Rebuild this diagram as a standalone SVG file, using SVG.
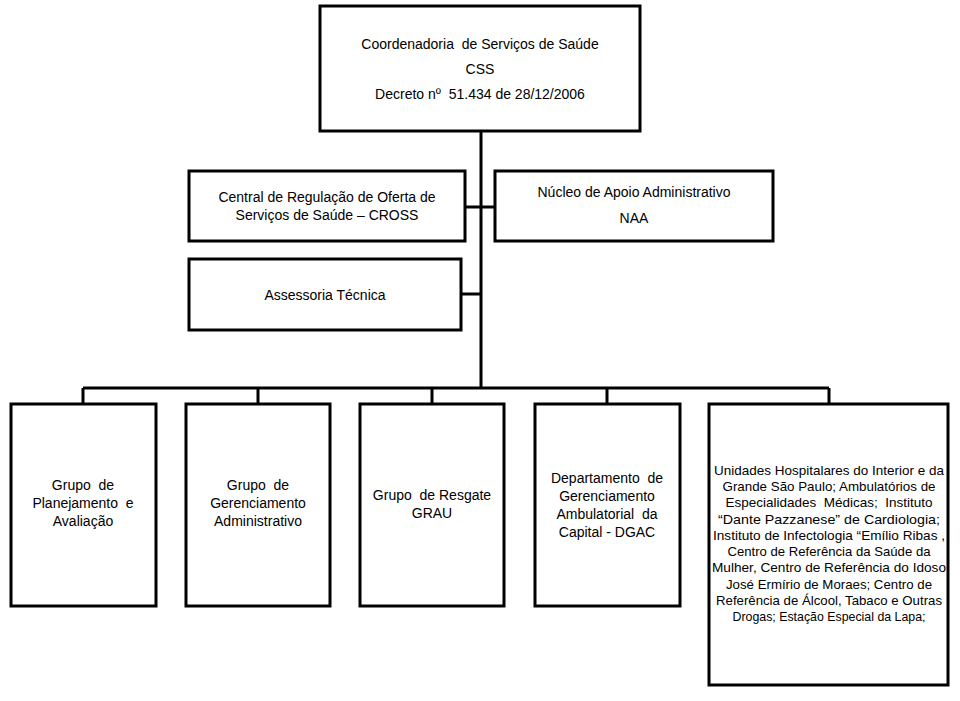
<svg xmlns="http://www.w3.org/2000/svg" width="960" height="701" viewBox="0 0 960 701">
<style>
.box{fill:#fff;stroke:#000;stroke-width:3}
.ln{fill:none;stroke:#000;stroke-width:3}
text{font-family:"Liberation Sans",Arial,sans-serif;font-size:14px;fill:#000;text-anchor:middle;white-space:pre}
.sm{font-size:13.5px}
</style>
<rect width="960" height="701" fill="#fff"/>
<g id="connectors">
<path class="ln" d="M481,131 V388 M83,388 H829 M83,388 V404 M258,388 V404 M432,388 V404 M607,388 V404 M829,388 V404 M465,207 H495 M461,294 H481"/>
</g>
<g id="css">
<rect class="box" x="320" y="6" width="320" height="125"/>
<text x="480" y="49">Coordenadoria  de Serviços de Saúde</text>
<text x="480" y="74">CSS</text>
<text x="480" y="99">Decreto nº  51.434 de 28/12/2006</text>
</g>
<g id="cross">
<rect class="box" x="189" y="171" width="276" height="70"/>
<text x="327" y="202">Central de Regulação de Oferta de</text>
<text x="327" y="220">Serviços de Saúde – CROSS</text>
</g>
<g id="naa">
<rect class="box" x="495" y="171" width="278" height="70"/>
<text x="634" y="197">Núcleo de Apoio Administrativo</text>
<text x="634" y="223">NAA</text>
</g>
<g id="assessoria">
<rect class="box" x="189" y="259" width="272" height="71"/>
<text x="325" y="300">Assessoria Técnica</text>
</g>
<g id="gpa">
<rect class="box" x="11" y="404" width="145" height="202"/>
<text x="83" y="490">Grupo  de</text>
<text x="83" y="508">Planejamento  e</text>
<text x="83" y="526">Avaliação</text>
</g>
<g id="gga">
<rect class="box" x="186" y="404" width="144" height="202"/>
<text x="258" y="490">Grupo  de</text>
<text x="258" y="508">Gerenciamento</text>
<text x="258" y="526">Administrativo</text>
</g>
<g id="grau">
<rect class="box" x="360" y="404" width="144" height="202"/>
<text x="432" y="500">Grupo  de Resgate</text>
<text x="432" y="518">GRAU</text>
</g>
<g id="dgac">
<rect class="box" x="535" y="404" width="145" height="202"/>
<text x="607" y="483">Departamento  de</text>
<text x="607" y="501">Gerenciamento</text>
<text x="607" y="519">Ambulatorial  da</text>
<text x="607" y="537">Capital - DGAC</text>
</g>
<g id="unidades">
<rect class="box" x="709" y="404" width="239" height="281"/>
<text class="sm" x="829" y="475" textLength="230" lengthAdjust="spacingAndGlyphs">Unidades Hospitalares do Interior e da</text>
<text class="sm" x="829" y="491" textLength="213" lengthAdjust="spacingAndGlyphs">Grande São Paulo; Ambulatórios de</text>
<text class="sm" x="829" y="507" textLength="207" lengthAdjust="spacingAndGlyphs">Especialidades  Médicas;  Instituto</text>
<text class="sm" x="829" y="524" textLength="222" lengthAdjust="spacingAndGlyphs">“Dante Pazzanese” de Cardiologia;</text>
<text class="sm" x="829" y="540" textLength="232" lengthAdjust="spacingAndGlyphs">Instituto de Infectologia “Emílio Ribas ,</text>
<text class="sm" x="829" y="556" textLength="203" lengthAdjust="spacingAndGlyphs">Centro de Referência da Saúde da</text>
<text class="sm" x="829" y="572" textLength="234" lengthAdjust="spacingAndGlyphs">Mulher, Centro de Referência do Idoso</text>
<text class="sm" x="829" y="589" textLength="206" lengthAdjust="spacingAndGlyphs">José Ermírio de Moraes; Centro de</text>
<text class="sm" x="829" y="605" textLength="226" lengthAdjust="spacingAndGlyphs">Referência de Álcool, Tabaco e Outras</text>
<text class="sm" x="829" y="621" textLength="193" lengthAdjust="spacingAndGlyphs">Drogas; Estação Especial da Lapa;</text>
</g>
</svg>
